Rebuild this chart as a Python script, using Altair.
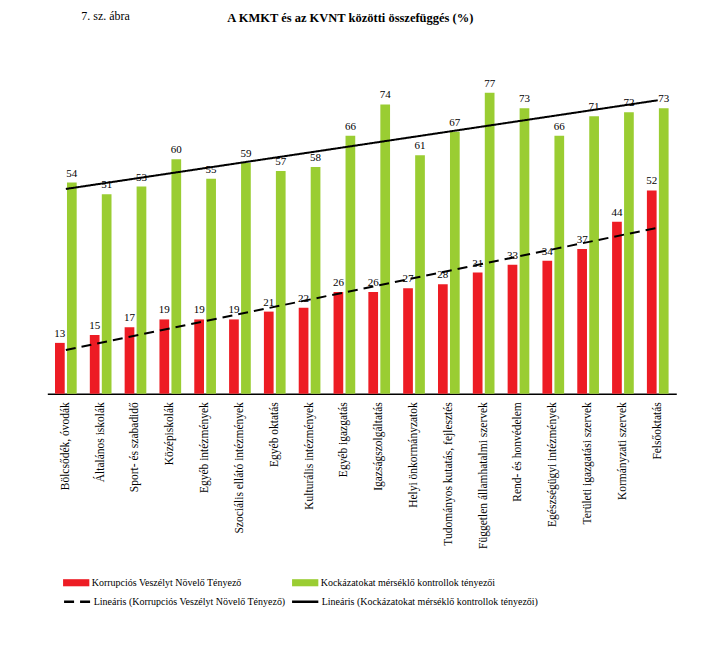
import altair as alt
import pandas as pd

categories = [
    "Bölcsődék, óvodák", "Általános iskolák", "Sport- és szabadidő", "Középiskolák",
    "Egyéb intézmények", "Szociális ellátó intézmények", "Egyéb oktatás",
    "Kulturális intézmények", "Egyéb igazgatás", "Igazságszolgáltatás",
    "Helyi önkormányzatok", "Tudományos kutatás, fejlesztés",
    "Független államhatalmi szervek", "Rend- és honvédelem",
    "Egészségügyi intézmények", "Területi igazgatási szervek",
    "Kormányzati szervek", "Felsőoktatás",
]
kvnt = [13, 15, 17, 19, 19, 19, 21, 22, 26, 26, 27, 28, 31, 33, 34, 37, 44, 52]
kmkt = [54, 51, 53, 60, 55, 59, 57, 58, 66, 74, 61, 67, 77, 73, 66, 71, 72, 73]

TITLE = "A KMKT és az KVNT közötti összefüggés (%)"
FIG_LABEL = "7. sz. ábra"
S_RED = "Korrupciós Veszélyt Növelő Tényező"
S_GREEN = "Kockázatokat mérséklő kontrollok tényezői"
series_order = [S_RED, S_GREEN]
trend_order = ["Lineáris (" + S_RED + ")", "Lineáris (" + S_GREEN + ")"]
colors = ["#ED1C24", "#9ACD32"]

rows = []
for i, c in enumerate(categories):
    rows.append({"cat": c, "idx": i, "series": S_RED, "value": kvnt[i]})
    rows.append({"cat": c, "idx": i, "series": S_GREEN, "value": kmkt[i]})
df = pd.DataFrame(rows)
cat_df = pd.DataFrame({"idx": list(range(len(categories))), "cat": categories})

FONT = "Liberation Serif"

x_enc = alt.X(
    "cat:N", sort=categories,
    scale=alt.Scale(paddingInner=0.377, paddingOuter=0.221),
    axis=alt.Axis(title=None, labelAngle=-90, labelFont=FONT, labelFontSize=11.5,
                  labelColor="black", labelPadding=8, ticks=False, domainColor="black",
                  domainWidth=1.5, labelLimit=300),
)
y_enc = alt.Y("value:Q", scale=alt.Scale(domain=[0, 80]), axis=None)
xoff = alt.XOffset("series:N", sort=series_order,
                   scale=alt.Scale(paddingInner=0.19, paddingOuter=0))

bars = alt.Chart(df).mark_bar().encode(
    x=x_enc, xOffset=xoff, y=y_enc,
    color=alt.Color("series:N",
                    scale=alt.Scale(domain=series_order, range=colors),
                    legend=alt.Legend(title=None, orient="none", legendX=15.4, legendY=488,
                                      columns=2, columnPadding=49, padding=0,
                                      symbolType="M-1,-0.27H1V0.27H-1Z", symbolSize=690,
                                      symbolStrokeWidth=0, labelOffset=2, labelLimit=400,
                                      labelFont=FONT, labelFontSize=10, labelColor="black")),
)

labels = alt.Chart(df).mark_text(baseline="bottom", dy=-4, font=FONT, fontSize=11,
                                 color="black").encode(
    x=x_enc, xOffset=xoff, y=y_enc, text="value:Q"
)

trends = alt.Chart(df).transform_regression(
    "idx", "value", groupby=["series"], method="linear"
).transform_lookup(
    lookup="idx", from_=alt.LookupData(cat_df, "idx", ["cat"])
).transform_calculate(
    trend="'Lineáris (' + datum.series + ')'"
).mark_line(color="black", strokeWidth=2).encode(
    x=x_enc, y=y_enc,
    strokeDash=alt.StrokeDash("trend:N",
                              scale=alt.Scale(domain=trend_order, range=[[10, 6], [1, 0]]),
                              legend=alt.Legend(title=None, orient="none", legendX=15.4,
                                                legendY=506, columns=2, columnPadding=0,
                                                padding=0, symbolType="stroke",
                                                symbolSize=690, symbolStrokeWidth=2.5,
                                                symbolStrokeColor="black", labelOffset=2,
                                                labelLimit=400,
                                                labelFont=FONT, labelFontSize=10,
                                                labelColor="black")),
)

title_df = pd.DataFrame({"t": [TITLE]})
title_mark = alt.Chart(title_df).mark_text(
    align="center", baseline="alphabetic", font=FONT, fontSize=12.5, fontWeight="bold",
    color="black"
).encode(x=alt.value(303), y=alt.value(-59), text="t:N")

fig_df = pd.DataFrame({"t": [FIG_LABEL]})
fig_label = alt.Chart(fig_df).mark_text(
    align="left", baseline="alphabetic", font=FONT, fontSize=12, color="black"
).encode(x=alt.value(34), y=alt.value(-61), text="t:N")

chart = alt.layer(bars, trends, labels, title_mark, fig_label).resolve_scale(
    color="independent", strokeDash="independent"
).properties(
    width=629, height=312.7,
    autosize=alt.AutoSizeParams(type="none"),
    padding={"left": 39.3, "top": 73, "right": 20, "bottom": 240},
).configure_view(stroke=None).configure_legend(labelFont=FONT)

chart.save("out.html", embed_options={"renderer": "svg", "actions": False})
